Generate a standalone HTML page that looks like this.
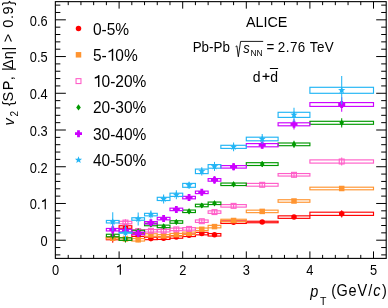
<!DOCTYPE html>
<html><head><meta charset="utf-8"><style>
html,body{margin:0;padding:0;background:#fff;}
body{width:388px;height:308px;overflow:hidden;}
svg{display:block;font-family:"Liberation Sans",sans-serif;}
text{fill:#000;}
.gs{filter:grayscale(1);}
</style></head><body>
<svg width="388" height="308" viewBox="0 0 388 308">
<rect width="388" height="308" fill="#fff"/>
<g><rect x="106.38" y="237.25" width="12.72" height="2.50" fill="none" stroke="#ff0000" stroke-width="1.15"/><line x1="112.74" y1="234.20" x2="112.74" y2="242.80" stroke="#ff0000" stroke-width="1.05"/><circle cx="112.74" cy="238.50" r="2.75" fill="#ff0000"/><rect x="119.10" y="225.75" width="12.72" height="2.50" fill="none" stroke="#ff0000" stroke-width="1.15"/><line x1="125.46" y1="224.00" x2="125.46" y2="230.00" stroke="#ff0000" stroke-width="1.05"/><circle cx="125.46" cy="227.00" r="2.75" fill="#ff0000"/><rect x="131.82" y="233.95" width="12.72" height="2.50" fill="none" stroke="#ff0000" stroke-width="1.15"/><line x1="138.18" y1="232.70" x2="138.18" y2="237.70" stroke="#ff0000" stroke-width="1.05"/><circle cx="138.18" cy="235.20" r="2.75" fill="#ff0000"/><rect x="144.54" y="237.15" width="12.72" height="2.50" fill="none" stroke="#ff0000" stroke-width="1.15"/><line x1="150.90" y1="235.60" x2="150.90" y2="241.20" stroke="#ff0000" stroke-width="1.05"/><circle cx="150.90" cy="238.40" r="2.75" fill="#ff0000"/><rect x="157.26" y="236.95" width="12.72" height="2.50" fill="none" stroke="#ff0000" stroke-width="1.15"/><line x1="163.62" y1="236.20" x2="163.62" y2="240.20" stroke="#ff0000" stroke-width="1.05"/><circle cx="163.62" cy="238.20" r="2.75" fill="#ff0000"/><rect x="169.98" y="235.75" width="12.72" height="2.50" fill="none" stroke="#ff0000" stroke-width="1.15"/><line x1="176.34" y1="235.00" x2="176.34" y2="239.00" stroke="#ff0000" stroke-width="1.05"/><circle cx="176.34" cy="237.00" r="2.75" fill="#ff0000"/><rect x="182.70" y="234.05" width="12.72" height="2.50" fill="none" stroke="#ff0000" stroke-width="1.15"/><line x1="189.06" y1="233.30" x2="189.06" y2="237.30" stroke="#ff0000" stroke-width="1.05"/><circle cx="189.06" cy="235.30" r="2.75" fill="#ff0000"/><rect x="195.42" y="232.35" width="12.72" height="2.50" fill="none" stroke="#ff0000" stroke-width="1.15"/><line x1="201.78" y1="231.60" x2="201.78" y2="235.60" stroke="#ff0000" stroke-width="1.05"/><circle cx="201.78" cy="233.60" r="2.75" fill="#ff0000"/><rect x="208.14" y="233.55" width="12.72" height="2.50" fill="none" stroke="#ff0000" stroke-width="1.15"/><line x1="214.50" y1="232.80" x2="214.50" y2="236.80" stroke="#ff0000" stroke-width="1.05"/><circle cx="214.50" cy="234.80" r="2.75" fill="#ff0000"/><rect x="220.86" y="220.95" width="25.44" height="2.50" fill="none" stroke="#ff0000" stroke-width="1.15"/><line x1="233.58" y1="220.70" x2="233.58" y2="223.70" stroke="#ff0000" stroke-width="1.05"/><circle cx="233.58" cy="222.20" r="2.75" fill="#ff0000"/><rect x="246.30" y="221.25" width="31.80" height="1.50" fill="none" stroke="#ff0000" stroke-width="1.15"/><line x1="262.20" y1="220.50" x2="262.20" y2="223.50" stroke="#ff0000" stroke-width="1.05"/><circle cx="262.20" cy="222.00" r="2.75" fill="#ff0000"/><rect x="278.10" y="215.85" width="31.80" height="2.50" fill="none" stroke="#ff0000" stroke-width="1.15"/><line x1="294.00" y1="215.60" x2="294.00" y2="218.60" stroke="#ff0000" stroke-width="1.05"/><circle cx="294.00" cy="217.10" r="2.75" fill="#ff0000"/><rect x="309.90" y="212.20" width="63.60" height="3.20" fill="none" stroke="#ff0000" stroke-width="1.15"/><line x1="341.70" y1="210.20" x2="341.70" y2="217.40" stroke="#ff0000" stroke-width="1.05"/><circle cx="341.70" cy="213.80" r="2.75" fill="#ff0000"/><rect x="106.38" y="237.40" width="12.72" height="1.60" fill="none" stroke="#ff9430" stroke-width="1.15"/><line x1="112.74" y1="235.20" x2="112.74" y2="241.20" stroke="#ff9430" stroke-width="1.05"/><rect x="109.99" y="235.45" width="5.50" height="5.50" fill="#ff9430"/><rect x="119.10" y="237.65" width="12.72" height="2.50" fill="none" stroke="#ff9430" stroke-width="1.15"/><line x1="125.46" y1="235.90" x2="125.46" y2="241.90" stroke="#ff9430" stroke-width="1.05"/><rect x="122.71" y="236.15" width="5.50" height="5.50" fill="#ff9430"/><rect x="131.82" y="238.55" width="12.72" height="2.50" fill="none" stroke="#ff9430" stroke-width="1.15"/><line x1="138.18" y1="237.30" x2="138.18" y2="242.30" stroke="#ff9430" stroke-width="1.05"/><rect x="135.43" y="237.05" width="5.50" height="5.50" fill="#ff9430"/><rect x="144.54" y="233.75" width="12.72" height="2.50" fill="none" stroke="#ff9430" stroke-width="1.15"/><line x1="150.90" y1="233.00" x2="150.90" y2="237.00" stroke="#ff9430" stroke-width="1.05"/><rect x="148.15" y="232.25" width="5.50" height="5.50" fill="#ff9430"/><rect x="157.26" y="234.65" width="12.72" height="2.50" fill="none" stroke="#ff9430" stroke-width="1.15"/><line x1="163.62" y1="233.90" x2="163.62" y2="237.90" stroke="#ff9430" stroke-width="1.05"/><rect x="160.87" y="233.15" width="5.50" height="5.50" fill="#ff9430"/><rect x="169.98" y="233.45" width="12.72" height="2.50" fill="none" stroke="#ff9430" stroke-width="1.15"/><line x1="176.34" y1="232.70" x2="176.34" y2="236.70" stroke="#ff9430" stroke-width="1.05"/><rect x="173.59" y="231.95" width="5.50" height="5.50" fill="#ff9430"/><rect x="182.70" y="232.05" width="12.72" height="2.50" fill="none" stroke="#ff9430" stroke-width="1.15"/><line x1="189.06" y1="231.30" x2="189.06" y2="235.30" stroke="#ff9430" stroke-width="1.05"/><rect x="186.31" y="230.55" width="5.50" height="5.50" fill="#ff9430"/><rect x="195.42" y="228.05" width="12.72" height="2.50" fill="none" stroke="#ff9430" stroke-width="1.15"/><line x1="201.78" y1="227.30" x2="201.78" y2="231.30" stroke="#ff9430" stroke-width="1.05"/><rect x="199.03" y="226.55" width="5.50" height="5.50" fill="#ff9430"/><rect x="208.14" y="225.35" width="12.72" height="2.50" fill="none" stroke="#ff9430" stroke-width="1.15"/><line x1="214.50" y1="224.60" x2="214.50" y2="228.60" stroke="#ff9430" stroke-width="1.05"/><rect x="211.75" y="223.85" width="5.50" height="5.50" fill="#ff9430"/><rect x="220.86" y="219.25" width="25.44" height="2.50" fill="none" stroke="#ff9430" stroke-width="1.15"/><line x1="233.58" y1="219.00" x2="233.58" y2="222.00" stroke="#ff9430" stroke-width="1.05"/><rect x="230.83" y="217.75" width="5.50" height="5.50" fill="#ff9430"/><rect x="246.30" y="210.15" width="31.80" height="2.50" fill="none" stroke="#ff9430" stroke-width="1.15"/><line x1="262.20" y1="209.90" x2="262.20" y2="212.90" stroke="#ff9430" stroke-width="1.05"/><rect x="259.45" y="208.65" width="5.50" height="5.50" fill="#ff9430"/><rect x="278.10" y="199.75" width="31.80" height="2.50" fill="none" stroke="#ff9430" stroke-width="1.15"/><line x1="294.00" y1="199.50" x2="294.00" y2="202.50" stroke="#ff9430" stroke-width="1.05"/><rect x="291.25" y="198.25" width="5.50" height="5.50" fill="#ff9430"/><rect x="309.90" y="187.20" width="63.60" height="2.60" fill="none" stroke="#ff9430" stroke-width="1.15"/><line x1="341.70" y1="186.50" x2="341.70" y2="190.50" stroke="#ff9430" stroke-width="1.05"/><rect x="338.95" y="185.75" width="5.50" height="5.50" fill="#ff9430"/><rect x="119.10" y="221.30" width="12.72" height="2.50" fill="none" stroke="#ff5ec8" stroke-width="1.15"/><line x1="125.46" y1="219.35" x2="125.46" y2="225.75" stroke="#ff5ec8" stroke-width="1.05"/><rect x="123.01" y="220.10" width="4.90" height="4.90" fill="none" stroke="#ff5ec8" stroke-width="1.1"/><rect x="131.82" y="229.75" width="12.72" height="2.50" fill="none" stroke="#ff5ec8" stroke-width="1.15"/><line x1="138.18" y1="228.00" x2="138.18" y2="234.00" stroke="#ff5ec8" stroke-width="1.05"/><rect x="135.73" y="228.55" width="4.90" height="4.90" fill="none" stroke="#ff5ec8" stroke-width="1.1"/><rect x="144.54" y="229.55" width="12.72" height="2.50" fill="none" stroke="#ff5ec8" stroke-width="1.15"/><line x1="150.90" y1="228.30" x2="150.90" y2="233.30" stroke="#ff5ec8" stroke-width="1.05"/><rect x="148.45" y="228.35" width="4.90" height="4.90" fill="none" stroke="#ff5ec8" stroke-width="1.1"/><rect x="157.26" y="229.45" width="12.72" height="2.50" fill="none" stroke="#ff5ec8" stroke-width="1.15"/><line x1="163.62" y1="228.20" x2="163.62" y2="233.20" stroke="#ff5ec8" stroke-width="1.05"/><rect x="161.17" y="228.25" width="4.90" height="4.90" fill="none" stroke="#ff5ec8" stroke-width="1.1"/><rect x="169.98" y="228.15" width="12.72" height="2.50" fill="none" stroke="#ff5ec8" stroke-width="1.15"/><line x1="176.34" y1="226.90" x2="176.34" y2="231.90" stroke="#ff5ec8" stroke-width="1.05"/><rect x="173.89" y="226.95" width="4.90" height="4.90" fill="none" stroke="#ff5ec8" stroke-width="1.1"/><rect x="182.70" y="227.65" width="12.72" height="2.50" fill="none" stroke="#ff5ec8" stroke-width="1.15"/><line x1="189.06" y1="226.90" x2="189.06" y2="230.90" stroke="#ff5ec8" stroke-width="1.05"/><rect x="186.61" y="226.45" width="4.90" height="4.90" fill="none" stroke="#ff5ec8" stroke-width="1.1"/><rect x="195.42" y="219.95" width="12.72" height="2.50" fill="none" stroke="#ff5ec8" stroke-width="1.15"/><line x1="201.78" y1="219.20" x2="201.78" y2="223.20" stroke="#ff5ec8" stroke-width="1.05"/><rect x="199.33" y="218.75" width="4.90" height="4.90" fill="none" stroke="#ff5ec8" stroke-width="1.1"/><rect x="208.14" y="210.85" width="12.72" height="2.50" fill="none" stroke="#ff5ec8" stroke-width="1.15"/><line x1="214.50" y1="210.10" x2="214.50" y2="214.10" stroke="#ff5ec8" stroke-width="1.05"/><rect x="212.05" y="209.65" width="4.90" height="4.90" fill="none" stroke="#ff5ec8" stroke-width="1.1"/><rect x="220.86" y="204.60" width="25.44" height="2.50" fill="none" stroke="#ff5ec8" stroke-width="1.15"/><line x1="233.58" y1="203.65" x2="233.58" y2="208.05" stroke="#ff5ec8" stroke-width="1.05"/><rect x="231.13" y="203.40" width="4.90" height="4.90" fill="none" stroke="#ff5ec8" stroke-width="1.1"/><rect x="246.30" y="183.40" width="31.80" height="2.80" fill="none" stroke="#ff5ec8" stroke-width="1.15"/><line x1="262.20" y1="182.30" x2="262.20" y2="187.30" stroke="#ff5ec8" stroke-width="1.05"/><rect x="259.75" y="182.35" width="4.90" height="4.90" fill="none" stroke="#ff5ec8" stroke-width="1.1"/><rect x="278.10" y="173.55" width="31.80" height="2.50" fill="none" stroke="#ff5ec8" stroke-width="1.15"/><line x1="294.00" y1="172.20" x2="294.00" y2="177.40" stroke="#ff5ec8" stroke-width="1.05"/><rect x="291.55" y="172.35" width="4.90" height="4.90" fill="none" stroke="#ff5ec8" stroke-width="1.1"/><rect x="309.90" y="159.90" width="63.60" height="3.20" fill="none" stroke="#ff5ec8" stroke-width="1.15"/><line x1="341.70" y1="157.40" x2="341.70" y2="165.60" stroke="#ff5ec8" stroke-width="1.05"/><rect x="339.25" y="159.05" width="4.90" height="4.90" fill="none" stroke="#ff5ec8" stroke-width="1.1"/><rect x="106.38" y="234.25" width="12.72" height="2.50" fill="none" stroke="#009900" stroke-width="1.15"/><line x1="112.74" y1="231.50" x2="112.74" y2="239.50" stroke="#009900" stroke-width="1.05"/><path d="M112.74,232.40 L115.04,235.50 L112.74,238.60 L110.44,235.50Z" fill="#009900"/><rect x="119.10" y="237.85" width="12.72" height="2.50" fill="none" stroke="#009900" stroke-width="1.15"/><line x1="125.46" y1="235.70" x2="125.46" y2="242.50" stroke="#009900" stroke-width="1.05"/><path d="M125.46,236.00 L127.76,239.10 L125.46,242.20 L123.16,239.10Z" fill="#009900"/><rect x="131.82" y="230.25" width="12.72" height="2.50" fill="none" stroke="#009900" stroke-width="1.15"/><line x1="138.18" y1="228.50" x2="138.18" y2="234.50" stroke="#009900" stroke-width="1.05"/><path d="M138.18,228.40 L140.48,231.50 L138.18,234.60 L135.88,231.50Z" fill="#009900"/><rect x="144.54" y="223.25" width="12.72" height="2.50" fill="none" stroke="#009900" stroke-width="1.15"/><line x1="150.90" y1="222.00" x2="150.90" y2="227.00" stroke="#009900" stroke-width="1.05"/><path d="M150.90,221.40 L153.20,224.50 L150.90,227.60 L148.60,224.50Z" fill="#009900"/><rect x="157.26" y="225.15" width="12.72" height="2.50" fill="none" stroke="#009900" stroke-width="1.15"/><line x1="163.62" y1="223.90" x2="163.62" y2="228.90" stroke="#009900" stroke-width="1.05"/><path d="M163.62,223.30 L165.92,226.40 L163.62,229.50 L161.32,226.40Z" fill="#009900"/><rect x="169.98" y="220.75" width="12.72" height="2.50" fill="none" stroke="#009900" stroke-width="1.15"/><line x1="176.34" y1="219.50" x2="176.34" y2="224.50" stroke="#009900" stroke-width="1.05"/><path d="M176.34,218.90 L178.64,222.00 L176.34,225.10 L174.04,222.00Z" fill="#009900"/><rect x="182.70" y="210.05" width="12.72" height="2.50" fill="none" stroke="#009900" stroke-width="1.15"/><line x1="189.06" y1="208.80" x2="189.06" y2="213.80" stroke="#009900" stroke-width="1.05"/><path d="M189.06,208.20 L191.36,211.30 L189.06,214.40 L186.76,211.30Z" fill="#009900"/><rect x="195.42" y="204.25" width="12.72" height="2.50" fill="none" stroke="#009900" stroke-width="1.15"/><line x1="201.78" y1="203.00" x2="201.78" y2="208.00" stroke="#009900" stroke-width="1.05"/><path d="M201.78,202.40 L204.08,205.50 L201.78,208.60 L199.48,205.50Z" fill="#009900"/><rect x="208.14" y="202.05" width="12.72" height="2.50" fill="none" stroke="#009900" stroke-width="1.15"/><line x1="214.50" y1="200.80" x2="214.50" y2="205.80" stroke="#009900" stroke-width="1.05"/><path d="M214.50,200.20 L216.80,203.30 L214.50,206.40 L212.20,203.30Z" fill="#009900"/><rect x="220.86" y="183.05" width="25.44" height="2.50" fill="none" stroke="#009900" stroke-width="1.15"/><line x1="233.58" y1="181.80" x2="233.58" y2="186.80" stroke="#009900" stroke-width="1.05"/><path d="M233.58,181.20 L235.88,184.30 L233.58,187.40 L231.28,184.30Z" fill="#009900"/><rect x="246.30" y="162.70" width="31.80" height="2.80" fill="none" stroke="#009900" stroke-width="1.15"/><line x1="262.20" y1="161.30" x2="262.20" y2="166.90" stroke="#009900" stroke-width="1.05"/><path d="M262.20,161.00 L264.50,164.10 L262.20,167.20 L259.90,164.10Z" fill="#009900"/><rect x="278.10" y="143.00" width="31.80" height="2.70" fill="none" stroke="#009900" stroke-width="1.15"/><line x1="294.00" y1="140.85" x2="294.00" y2="147.85" stroke="#009900" stroke-width="1.05"/><path d="M294.00,141.25 L296.30,144.35 L294.00,147.45 L291.70,144.35Z" fill="#009900"/><rect x="309.90" y="121.30" width="63.60" height="3.00" fill="none" stroke="#009900" stroke-width="1.15"/><line x1="341.70" y1="118.20" x2="341.70" y2="127.40" stroke="#009900" stroke-width="1.05"/><path d="M341.70,119.70 L344.00,122.80 L341.70,125.90 L339.40,122.80Z" fill="#009900"/><rect x="106.38" y="228.45" width="12.72" height="2.50" fill="none" stroke="#cc00ff" stroke-width="1.15"/><line x1="112.74" y1="222.90" x2="112.74" y2="236.50" stroke="#cc00ff" stroke-width="1.05"/><path d="M111.34,226.20h2.80v2.10h2.10v2.80h-2.10v2.10h-2.80v-2.10h-2.10v-2.80h2.10z" fill="#cc00ff"/><rect x="119.10" y="229.35" width="12.72" height="2.50" fill="none" stroke="#cc00ff" stroke-width="1.15"/><line x1="125.46" y1="225.60" x2="125.46" y2="235.60" stroke="#cc00ff" stroke-width="1.05"/><path d="M124.06,227.10h2.80v2.10h2.10v2.80h-2.10v2.10h-2.80v-2.10h-2.10v-2.80h2.10z" fill="#cc00ff"/><rect x="131.82" y="232.25" width="12.72" height="2.50" fill="none" stroke="#cc00ff" stroke-width="1.15"/><line x1="138.18" y1="229.80" x2="138.18" y2="237.20" stroke="#cc00ff" stroke-width="1.05"/><path d="M136.78,230.00h2.80v2.10h2.10v2.80h-2.10v2.10h-2.80v-2.10h-2.10v-2.80h2.10z" fill="#cc00ff"/><rect x="144.54" y="221.55" width="12.72" height="2.50" fill="none" stroke="#cc00ff" stroke-width="1.15"/><line x1="150.90" y1="219.60" x2="150.90" y2="226.00" stroke="#cc00ff" stroke-width="1.05"/><path d="M149.50,219.30h2.80v2.10h2.10v2.80h-2.10v2.10h-2.80v-2.10h-2.10v-2.80h2.10z" fill="#cc00ff"/><rect x="157.26" y="217.35" width="12.72" height="2.50" fill="none" stroke="#cc00ff" stroke-width="1.15"/><line x1="163.62" y1="215.40" x2="163.62" y2="221.80" stroke="#cc00ff" stroke-width="1.05"/><path d="M162.22,215.10h2.80v2.10h2.10v2.80h-2.10v2.10h-2.80v-2.10h-2.10v-2.80h2.10z" fill="#cc00ff"/><rect x="169.98" y="208.15" width="12.72" height="2.50" fill="none" stroke="#cc00ff" stroke-width="1.15"/><line x1="176.34" y1="206.20" x2="176.34" y2="212.60" stroke="#cc00ff" stroke-width="1.05"/><path d="M174.94,205.90h2.80v2.10h2.10v2.80h-2.10v2.10h-2.80v-2.10h-2.10v-2.80h2.10z" fill="#cc00ff"/><rect x="182.70" y="196.35" width="12.72" height="2.50" fill="none" stroke="#cc00ff" stroke-width="1.15"/><line x1="189.06" y1="194.20" x2="189.06" y2="201.00" stroke="#cc00ff" stroke-width="1.05"/><path d="M187.66,194.10h2.80v2.10h2.10v2.80h-2.10v2.10h-2.80v-2.10h-2.10v-2.80h2.10z" fill="#cc00ff"/><rect x="195.42" y="191.10" width="12.72" height="2.50" fill="none" stroke="#cc00ff" stroke-width="1.15"/><line x1="201.78" y1="189.35" x2="201.78" y2="195.35" stroke="#cc00ff" stroke-width="1.05"/><path d="M200.38,188.85h2.80v2.10h2.10v2.80h-2.10v2.10h-2.80v-2.10h-2.10v-2.80h2.10z" fill="#cc00ff"/><rect x="208.14" y="178.60" width="12.72" height="2.60" fill="none" stroke="#cc00ff" stroke-width="1.15"/><line x1="214.50" y1="176.15" x2="214.50" y2="183.65" stroke="#cc00ff" stroke-width="1.05"/><path d="M213.10,176.40h2.80v2.10h2.10v2.80h-2.10v2.10h-2.80v-2.10h-2.10v-2.80h2.10z" fill="#cc00ff"/><rect x="220.86" y="165.60" width="25.44" height="2.50" fill="none" stroke="#cc00ff" stroke-width="1.15"/><line x1="233.58" y1="163.35" x2="233.58" y2="170.35" stroke="#cc00ff" stroke-width="1.05"/><path d="M232.18,163.35h2.80v2.10h2.10v2.80h-2.10v2.10h-2.80v-2.10h-2.10v-2.80h2.10z" fill="#cc00ff"/><rect x="246.30" y="143.60" width="31.80" height="3.20" fill="none" stroke="#cc00ff" stroke-width="1.15"/><line x1="262.20" y1="141.60" x2="262.20" y2="148.80" stroke="#cc00ff" stroke-width="1.05"/><path d="M260.80,141.70h2.80v2.10h2.10v2.80h-2.10v2.10h-2.80v-2.10h-2.10v-2.80h2.10z" fill="#cc00ff"/><rect x="278.10" y="122.80" width="31.80" height="3.00" fill="none" stroke="#cc00ff" stroke-width="1.15"/><line x1="294.00" y1="119.10" x2="294.00" y2="129.50" stroke="#cc00ff" stroke-width="1.05"/><path d="M292.60,120.80h2.80v2.10h2.10v2.80h-2.10v2.10h-2.80v-2.10h-2.10v-2.80h2.10z" fill="#cc00ff"/><rect x="309.90" y="102.60" width="63.60" height="3.80" fill="none" stroke="#cc00ff" stroke-width="1.15"/><line x1="341.70" y1="97.20" x2="341.70" y2="111.80" stroke="#cc00ff" stroke-width="1.05"/><path d="M340.30,101.00h2.80v2.10h2.10v2.80h-2.10v2.10h-2.80v-2.10h-2.10v-2.80h2.10z" fill="#cc00ff"/><rect x="106.38" y="220.45" width="12.72" height="2.50" fill="none" stroke="#22b5f5" stroke-width="1.15"/><line x1="112.74" y1="212.20" x2="112.74" y2="231.20" stroke="#22b5f5" stroke-width="1.05"/><polygon points="112.74,217.90 113.68,220.41 116.35,220.53 114.26,222.19 114.97,224.77 112.74,223.30 110.51,224.77 111.22,222.19 109.13,220.53 111.80,220.41" fill="#22b5f5"/><rect x="119.10" y="232.40" width="12.72" height="0.80" fill="none" stroke="#22b5f5" stroke-width="1.15"/><line x1="125.46" y1="225.30" x2="125.46" y2="240.30" stroke="#22b5f5" stroke-width="1.05"/><polygon points="125.46,229.00 126.40,231.51 129.07,231.63 126.98,233.29 127.69,235.87 125.46,234.40 123.23,235.87 123.94,233.29 121.85,231.63 124.52,231.51" fill="#22b5f5"/><rect x="131.82" y="217.75" width="12.72" height="2.50" fill="none" stroke="#22b5f5" stroke-width="1.15"/><line x1="138.18" y1="212.50" x2="138.18" y2="225.50" stroke="#22b5f5" stroke-width="1.05"/><polygon points="138.18,215.20 139.12,217.71 141.79,217.83 139.70,219.49 140.41,222.07 138.18,220.60 135.95,222.07 136.66,219.49 134.57,217.83 137.24,217.71" fill="#22b5f5"/><rect x="144.54" y="213.35" width="12.72" height="2.50" fill="none" stroke="#22b5f5" stroke-width="1.15"/><line x1="150.90" y1="210.60" x2="150.90" y2="218.60" stroke="#22b5f5" stroke-width="1.05"/><polygon points="150.90,210.80 151.84,213.31 154.51,213.43 152.42,215.09 153.13,217.67 150.90,216.20 148.67,217.67 149.38,215.09 147.29,213.43 149.96,213.31" fill="#22b5f5"/><rect x="157.26" y="197.30" width="12.72" height="3.20" fill="none" stroke="#22b5f5" stroke-width="1.15"/><line x1="163.62" y1="194.40" x2="163.62" y2="203.40" stroke="#22b5f5" stroke-width="1.05"/><polygon points="163.62,195.10 164.56,197.61 167.23,197.73 165.14,199.39 165.85,201.97 163.62,200.50 161.39,201.97 162.10,199.39 160.01,197.73 162.68,197.61" fill="#22b5f5"/><rect x="169.98" y="193.20" width="12.72" height="3.20" fill="none" stroke="#22b5f5" stroke-width="1.15"/><line x1="176.34" y1="190.30" x2="176.34" y2="199.30" stroke="#22b5f5" stroke-width="1.05"/><polygon points="176.34,191.00 177.28,193.51 179.95,193.63 177.86,195.29 178.57,197.87 176.34,196.40 174.11,197.87 174.82,195.29 172.73,193.63 175.40,193.51" fill="#22b5f5"/><rect x="182.70" y="183.40" width="12.72" height="3.90" fill="none" stroke="#22b5f5" stroke-width="1.15"/><line x1="189.06" y1="181.65" x2="189.06" y2="189.05" stroke="#22b5f5" stroke-width="1.05"/><polygon points="189.06,181.55 190.00,184.06 192.67,184.18 190.58,185.84 191.29,188.42 189.06,186.95 186.83,188.42 187.54,185.84 185.45,184.18 188.12,184.06" fill="#22b5f5"/><rect x="195.42" y="169.10" width="12.72" height="4.50" fill="none" stroke="#22b5f5" stroke-width="1.15"/><line x1="201.78" y1="167.25" x2="201.78" y2="175.45" stroke="#22b5f5" stroke-width="1.05"/><polygon points="201.78,167.55 202.72,170.06 205.39,170.18 203.30,171.84 204.01,174.42 201.78,172.95 199.55,174.42 200.26,171.84 198.17,170.18 200.84,170.06" fill="#22b5f5"/><rect x="208.14" y="164.60" width="12.72" height="3.60" fill="none" stroke="#22b5f5" stroke-width="1.15"/><line x1="214.50" y1="161.90" x2="214.50" y2="170.90" stroke="#22b5f5" stroke-width="1.05"/><polygon points="214.50,162.60 215.44,165.11 218.11,165.23 216.02,166.89 216.73,169.47 214.50,168.00 212.27,169.47 212.98,166.89 210.89,165.23 213.56,165.11" fill="#22b5f5"/><rect x="220.86" y="145.30" width="25.44" height="3.10" fill="none" stroke="#22b5f5" stroke-width="1.15"/><line x1="233.58" y1="142.45" x2="233.58" y2="151.25" stroke="#22b5f5" stroke-width="1.05"/><polygon points="233.58,143.05 234.52,145.56 237.19,145.68 235.10,147.34 235.81,149.92 233.58,148.45 231.35,149.92 232.06,147.34 229.97,145.68 232.64,145.56" fill="#22b5f5"/><rect x="246.30" y="137.20" width="31.80" height="3.60" fill="none" stroke="#22b5f5" stroke-width="1.15"/><line x1="262.20" y1="134.00" x2="262.20" y2="144.00" stroke="#22b5f5" stroke-width="1.05"/><polygon points="262.20,135.20 263.14,137.71 265.81,137.83 263.72,139.49 264.43,142.07 262.20,140.60 259.97,142.07 260.68,139.49 258.59,137.83 261.26,137.71" fill="#22b5f5"/><rect x="278.10" y="112.30" width="31.80" height="5.10" fill="none" stroke="#22b5f5" stroke-width="1.15"/><line x1="294.00" y1="107.75" x2="294.00" y2="121.95" stroke="#22b5f5" stroke-width="1.05"/><polygon points="294.00,111.05 294.94,113.56 297.61,113.68 295.52,115.34 296.23,117.92 294.00,116.45 291.77,117.92 292.48,115.34 290.39,113.68 293.06,113.56" fill="#22b5f5"/><rect x="309.90" y="87.30" width="63.60" height="6.00" fill="none" stroke="#22b5f5" stroke-width="1.15"/><line x1="341.70" y1="76.10" x2="341.70" y2="104.50" stroke="#22b5f5" stroke-width="1.05"/><polygon points="341.70,86.50 342.64,89.01 345.31,89.13 343.22,90.79 343.93,93.37 341.70,91.90 339.47,93.37 340.18,90.79 338.09,89.13 340.76,89.01" fill="#22b5f5"/></g>
<g stroke="#000" stroke-width="1.0"><rect x="55.35" y="1.65" width="330.85" height="256.75" fill="none" stroke="#000" stroke-width="1.1"/><line x1="55.35" y1="254.89" x2="60.35" y2="254.89"/><line x1="386.20" y1="254.89" x2="381.20" y2="254.89"/><line x1="55.35" y1="247.55" x2="60.35" y2="247.55"/><line x1="386.20" y1="247.55" x2="381.20" y2="247.55"/><line x1="55.35" y1="240.20" x2="65.85" y2="240.20"/><line x1="386.20" y1="240.20" x2="376.20" y2="240.20"/><line x1="55.35" y1="232.85" x2="60.35" y2="232.85"/><line x1="386.20" y1="232.85" x2="381.20" y2="232.85"/><line x1="55.35" y1="225.51" x2="60.35" y2="225.51"/><line x1="386.20" y1="225.51" x2="381.20" y2="225.51"/><line x1="55.35" y1="218.16" x2="60.35" y2="218.16"/><line x1="386.20" y1="218.16" x2="381.20" y2="218.16"/><line x1="55.35" y1="210.82" x2="60.35" y2="210.82"/><line x1="386.20" y1="210.82" x2="381.20" y2="210.82"/><line x1="55.35" y1="203.47" x2="65.85" y2="203.47"/><line x1="386.20" y1="203.47" x2="376.20" y2="203.47"/><line x1="55.35" y1="196.12" x2="60.35" y2="196.12"/><line x1="386.20" y1="196.12" x2="381.20" y2="196.12"/><line x1="55.35" y1="188.78" x2="60.35" y2="188.78"/><line x1="386.20" y1="188.78" x2="381.20" y2="188.78"/><line x1="55.35" y1="181.43" x2="60.35" y2="181.43"/><line x1="386.20" y1="181.43" x2="381.20" y2="181.43"/><line x1="55.35" y1="174.09" x2="60.35" y2="174.09"/><line x1="386.20" y1="174.09" x2="381.20" y2="174.09"/><line x1="55.35" y1="166.74" x2="65.85" y2="166.74"/><line x1="386.20" y1="166.74" x2="376.20" y2="166.74"/><line x1="55.35" y1="159.39" x2="60.35" y2="159.39"/><line x1="386.20" y1="159.39" x2="381.20" y2="159.39"/><line x1="55.35" y1="152.05" x2="60.35" y2="152.05"/><line x1="386.20" y1="152.05" x2="381.20" y2="152.05"/><line x1="55.35" y1="144.70" x2="60.35" y2="144.70"/><line x1="386.20" y1="144.70" x2="381.20" y2="144.70"/><line x1="55.35" y1="137.36" x2="60.35" y2="137.36"/><line x1="386.20" y1="137.36" x2="381.20" y2="137.36"/><line x1="55.35" y1="130.01" x2="65.85" y2="130.01"/><line x1="386.20" y1="130.01" x2="376.20" y2="130.01"/><line x1="55.35" y1="122.66" x2="60.35" y2="122.66"/><line x1="386.20" y1="122.66" x2="381.20" y2="122.66"/><line x1="55.35" y1="115.32" x2="60.35" y2="115.32"/><line x1="386.20" y1="115.32" x2="381.20" y2="115.32"/><line x1="55.35" y1="107.97" x2="60.35" y2="107.97"/><line x1="386.20" y1="107.97" x2="381.20" y2="107.97"/><line x1="55.35" y1="100.63" x2="60.35" y2="100.63"/><line x1="386.20" y1="100.63" x2="381.20" y2="100.63"/><line x1="55.35" y1="93.28" x2="65.85" y2="93.28"/><line x1="386.20" y1="93.28" x2="376.20" y2="93.28"/><line x1="55.35" y1="85.93" x2="60.35" y2="85.93"/><line x1="386.20" y1="85.93" x2="381.20" y2="85.93"/><line x1="55.35" y1="78.59" x2="60.35" y2="78.59"/><line x1="386.20" y1="78.59" x2="381.20" y2="78.59"/><line x1="55.35" y1="71.24" x2="60.35" y2="71.24"/><line x1="386.20" y1="71.24" x2="381.20" y2="71.24"/><line x1="55.35" y1="63.90" x2="60.35" y2="63.90"/><line x1="386.20" y1="63.90" x2="381.20" y2="63.90"/><line x1="55.35" y1="56.55" x2="65.85" y2="56.55"/><line x1="386.20" y1="56.55" x2="376.20" y2="56.55"/><line x1="55.35" y1="49.20" x2="60.35" y2="49.20"/><line x1="386.20" y1="49.20" x2="381.20" y2="49.20"/><line x1="55.35" y1="41.86" x2="60.35" y2="41.86"/><line x1="386.20" y1="41.86" x2="381.20" y2="41.86"/><line x1="55.35" y1="34.51" x2="60.35" y2="34.51"/><line x1="386.20" y1="34.51" x2="381.20" y2="34.51"/><line x1="55.35" y1="27.17" x2="60.35" y2="27.17"/><line x1="386.20" y1="27.17" x2="381.20" y2="27.17"/><line x1="55.35" y1="19.82" x2="65.85" y2="19.82"/><line x1="386.20" y1="19.82" x2="376.20" y2="19.82"/><line x1="55.35" y1="12.47" x2="60.35" y2="12.47"/><line x1="386.20" y1="12.47" x2="381.20" y2="12.47"/><line x1="55.35" y1="5.13" x2="60.35" y2="5.13"/><line x1="386.20" y1="5.13" x2="381.20" y2="5.13"/><line x1="68.22" y1="258.40" x2="68.22" y2="254.90"/><line x1="68.22" y1="1.65" x2="68.22" y2="5.15"/><line x1="80.94" y1="258.40" x2="80.94" y2="254.90"/><line x1="80.94" y1="1.65" x2="80.94" y2="5.15"/><line x1="93.66" y1="258.40" x2="93.66" y2="254.90"/><line x1="93.66" y1="1.65" x2="93.66" y2="5.15"/><line x1="106.38" y1="258.40" x2="106.38" y2="254.90"/><line x1="106.38" y1="1.65" x2="106.38" y2="5.15"/><line x1="119.10" y1="258.40" x2="119.10" y2="251.40"/><line x1="119.10" y1="1.65" x2="119.10" y2="8.65"/><line x1="131.82" y1="258.40" x2="131.82" y2="254.90"/><line x1="131.82" y1="1.65" x2="131.82" y2="5.15"/><line x1="144.54" y1="258.40" x2="144.54" y2="254.90"/><line x1="144.54" y1="1.65" x2="144.54" y2="5.15"/><line x1="157.26" y1="258.40" x2="157.26" y2="254.90"/><line x1="157.26" y1="1.65" x2="157.26" y2="5.15"/><line x1="169.98" y1="258.40" x2="169.98" y2="254.90"/><line x1="169.98" y1="1.65" x2="169.98" y2="5.15"/><line x1="182.70" y1="258.40" x2="182.70" y2="251.40"/><line x1="182.70" y1="1.65" x2="182.70" y2="8.65"/><line x1="195.42" y1="258.40" x2="195.42" y2="254.90"/><line x1="195.42" y1="1.65" x2="195.42" y2="5.15"/><line x1="208.14" y1="258.40" x2="208.14" y2="254.90"/><line x1="208.14" y1="1.65" x2="208.14" y2="5.15"/><line x1="220.86" y1="258.40" x2="220.86" y2="254.90"/><line x1="220.86" y1="1.65" x2="220.86" y2="5.15"/><line x1="233.58" y1="258.40" x2="233.58" y2="254.90"/><line x1="233.58" y1="1.65" x2="233.58" y2="5.15"/><line x1="246.30" y1="258.40" x2="246.30" y2="251.40"/><line x1="246.30" y1="1.65" x2="246.30" y2="8.65"/><line x1="259.02" y1="258.40" x2="259.02" y2="254.90"/><line x1="259.02" y1="1.65" x2="259.02" y2="5.15"/><line x1="271.74" y1="258.40" x2="271.74" y2="254.90"/><line x1="271.74" y1="1.65" x2="271.74" y2="5.15"/><line x1="284.46" y1="258.40" x2="284.46" y2="254.90"/><line x1="284.46" y1="1.65" x2="284.46" y2="5.15"/><line x1="297.18" y1="258.40" x2="297.18" y2="254.90"/><line x1="297.18" y1="1.65" x2="297.18" y2="5.15"/><line x1="309.90" y1="258.40" x2="309.90" y2="251.40"/><line x1="309.90" y1="1.65" x2="309.90" y2="8.65"/><line x1="322.62" y1="258.40" x2="322.62" y2="254.90"/><line x1="322.62" y1="1.65" x2="322.62" y2="5.15"/><line x1="335.34" y1="258.40" x2="335.34" y2="254.90"/><line x1="335.34" y1="1.65" x2="335.34" y2="5.15"/><line x1="348.06" y1="258.40" x2="348.06" y2="254.90"/><line x1="348.06" y1="1.65" x2="348.06" y2="5.15"/><line x1="360.78" y1="258.40" x2="360.78" y2="254.90"/><line x1="360.78" y1="1.65" x2="360.78" y2="5.15"/><line x1="373.50" y1="258.40" x2="373.50" y2="251.40"/><line x1="373.50" y1="1.65" x2="373.50" y2="8.65"/></g>
<g class="gs"><text transform="translate(47.60,246.10) scale(0.95,1.09)" font-size="13.5" text-anchor="end">0</text><text transform="translate(47.60,209.37) scale(0.95,1.09)" font-size="13.5" text-anchor="end">0. </text><text transform="translate(47.60,172.64) scale(0.95,1.09)" font-size="13.5" text-anchor="end">0.2</text><text transform="translate(47.60,135.91) scale(0.95,1.09)" font-size="13.5" text-anchor="end">0.3</text><text transform="translate(47.60,99.18) scale(0.95,1.09)" font-size="13.5" text-anchor="end">0.4</text><text transform="translate(47.60,62.45) scale(0.95,1.09)" font-size="13.5" text-anchor="end">0.5</text><text transform="translate(47.60,25.72) scale(0.95,1.09)" font-size="13.5" text-anchor="end">0.6</text><text transform="translate(55.50,274.80) scale(0.95,1.09)" font-size="13.5" text-anchor="middle">0</text><text transform="translate(119.10,274.80) scale(0.95,1.09)" font-size="13.5" text-anchor="middle"> </text><text transform="translate(182.70,274.80) scale(0.95,1.09)" font-size="13.5" text-anchor="middle">2</text><text transform="translate(246.30,274.80) scale(0.95,1.09)" font-size="13.5" text-anchor="middle">3</text><text transform="translate(309.90,274.80) scale(0.95,1.09)" font-size="13.5" text-anchor="middle">4</text><text transform="translate(373.50,274.80) scale(0.95,1.09)" font-size="13.5" text-anchor="middle">5</text></g>
<g><circle cx="78.50" cy="28.50" r="2.75" fill="#ff0000"/><rect x="75.75" y="52.05" width="5.50" height="5.50" fill="#ff9430"/><rect x="76.05" y="78.65" width="4.90" height="4.90" fill="none" stroke="#ff5ec8" stroke-width="1.1"/><path d="M78.50,104.30 L80.80,107.40 L78.50,110.50 L76.20,107.40Z" fill="#009900"/><path d="M77.10,130.20h2.80v2.10h2.10v2.80h-2.10v2.10h-2.80v-2.10h-2.10v-2.80h2.10z" fill="#cc00ff"/><polygon points="78.50,156.20 79.44,158.71 82.11,158.83 80.02,160.49 80.73,163.07 78.50,161.60 76.27,163.07 76.98,160.49 74.89,158.83 77.56,158.71" fill="#22b5f5"/></g>
<g class="gs"><text transform="translate(92.90,34.50) scale(1,1.09)" font-size="15.5" text-anchor="start">0-5%</text><text transform="translate(92.90,60.80) scale(1,1.09)" font-size="15.5" text-anchor="start">5- 0%</text><text transform="translate(92.90,87.10) scale(1,1.09)" font-size="15.5" text-anchor="start"> 0-20%</text><text transform="translate(92.90,113.40) scale(1,1.09)" font-size="15.5" text-anchor="start">20-30%</text><text transform="translate(92.90,139.70) scale(1,1.09)" font-size="15.5" text-anchor="start">30-40%</text><text transform="translate(92.90,166.00) scale(1,1.09)" font-size="15.5" text-anchor="start">40-50%</text></g>
<g class="gs"><text transform="translate(266.65,26.60) scale(1,1.09)" font-size="14" text-anchor="middle" textLength="41.5" lengthAdjust="spacingAndGlyphs">ALICE</text><text transform="translate(211.25,52.40) scale(1,1.09)" font-size="13.4" text-anchor="middle">Pb-Pb</text><path d="M235.6,46.6 L236.9,45.9 L238.3,56.8 L240.6,41.4 L263.2,41.4" fill="none" stroke="#000" stroke-width="0.9"/><text transform="translate(246.50,52.70) scale(1,1.09)" font-size="13" text-anchor="middle" font-style="italic">s</text><text transform="translate(256.60,56.30) scale(1,1.09)" font-size="8.5" text-anchor="middle">NN</text><text transform="translate(270.45,52.40) scale(1,1.09)" font-size="13.4" text-anchor="middle">=</text><text transform="translate(305.75,52.40) scale(1,1.09)" font-size="13.4" text-anchor="middle" textLength="56" lengthAdjust="spacing">2.76 TeV</text><text transform="translate(256.60,81.80) scale(1,1.09)" font-size="14" text-anchor="middle">d</text><path d="M262.5,76.4H269.5M266,73.2V79.7" stroke="#000" stroke-width="1.25" fill="none"/><text transform="translate(274.20,81.80) scale(1,1.09)" font-size="14" text-anchor="middle">d</text><line x1="269.9" y1="68.5" x2="278.1" y2="68.5" stroke="#000" stroke-width="1"/><text transform="translate(314.40,296.90) scale(1,1.09)" font-size="14.5" text-anchor="middle" font-style="italic">p</text><text transform="translate(323.30,304.50) scale(1,1.09)" font-size="10.5" text-anchor="middle">T</text><text transform="translate(333.55,296.30) scale(1,1.09)" font-size="14.5" text-anchor="middle">(</text><text transform="translate(342.20,296.30) scale(1,1.09)" font-size="14.5" text-anchor="middle">G</text><text transform="translate(352.60,296.30) scale(1,1.09)" font-size="14.5" text-anchor="middle">e</text><text transform="translate(362.45,296.30) scale(1,1.09)" font-size="14.5" text-anchor="middle">V</text><text transform="translate(370.35,296.30) scale(1,1.09)" font-size="14.5" text-anchor="middle">/</text><text transform="translate(384.40,296.30) scale(1,1.09)" font-size="14.5" text-anchor="middle">)</text><text transform="translate(376.80,296.30) scale(1,1.09)" font-size="14.5" text-anchor="middle" font-style="italic">c</text><g transform="rotate(-90)"><text transform="translate(-121.90,13.50) scale(1,1.06)" font-size="14.5" text-anchor="middle" font-style="italic">v</text><text transform="translate(-113.75,18.30) scale(1,1.06)" font-size="10" text-anchor="middle">2</text><text transform="translate(-103.50,13.30) scale(1,1.06)" font-size="14.5" text-anchor="middle">{</text><text transform="translate(-96.70,13.30) scale(1,1.06)" font-size="14.5" text-anchor="middle">S</text><text transform="translate(-85.50,13.30) scale(1,1.06)" font-size="14.5" text-anchor="middle">P</text><text transform="translate(-78.20,13.30) scale(1,1.06)" font-size="14.5" text-anchor="middle">,</text><text transform="translate(-69.10,13.30) scale(1,1.06)" font-size="14.5" text-anchor="middle">|</text><text transform="translate(-64.50,13.30) scale(1,1.06)" font-size="14.5" text-anchor="middle">Δ</text><text transform="translate(-55.20,13.30) scale(1,1.06)" font-size="14.5" text-anchor="middle">η</text><text transform="translate(-48.60,13.30) scale(1,1.06)" font-size="14.5" text-anchor="middle">|</text><text transform="translate(-38.10,13.30) scale(1,1.06)" font-size="14.5" text-anchor="middle">&gt;</text><text transform="translate(-23.70,13.30) scale(1,1.06)" font-size="14.5" text-anchor="middle">0</text><text transform="translate(-16.90,13.30) scale(1,1.06)" font-size="14.5" text-anchor="middle">.</text><text transform="translate(-10.40,13.30) scale(1,1.06)" font-size="14.5" text-anchor="middle">9</text><text transform="translate(-3.10,13.30) scale(1,1.06)" font-size="14.5" text-anchor="middle">}</text></g></g>
<path d="M44.70,209.37L45.85,209.37L45.85,198.83L45.11,198.83Q44.70,199.95 42.01,200.86L42.01,202.09Q43.80,201.64 44.70,200.91Z" fill="#000"/><path d="M119.77,274.80L120.92,274.80L120.92,264.26L120.18,264.26Q119.77,265.38 117.07,266.29L117.07,267.52Q118.87,267.07 119.77,266.34Z" fill="#000"/><path d="M111.80,60.80L113.19,60.80L113.19,48.70L112.29,48.70Q111.80,49.99 108.54,51.03L108.54,52.44Q110.71,51.93 111.80,51.09Z" fill="#000"/><path d="M98.02,87.10L99.41,87.10L99.41,75.00L98.51,75.00Q98.02,76.29 94.76,77.33L94.76,78.74Q96.93,78.23 98.02,77.39Z" fill="#000"/>
</svg>
</body></html>
